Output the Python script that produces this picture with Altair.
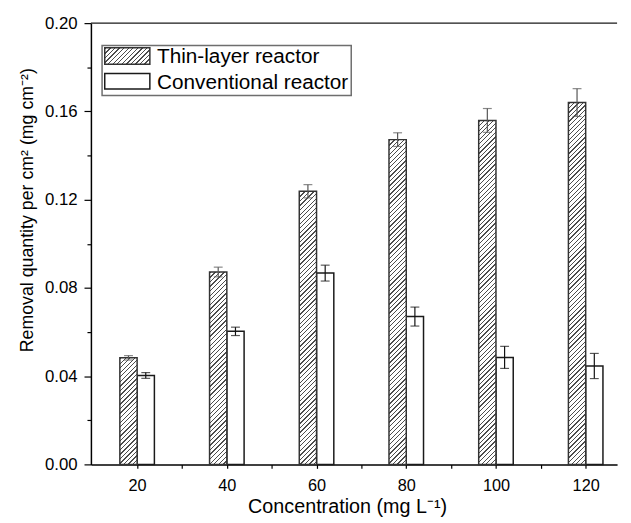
import altair as alt
import pandas as pd

# ---- data ----
conc = [20, 40, 60, 80, 100, 120]
thin_vals = [0.0483, 0.0872, 0.1238, 0.1472, 0.1559, 0.1640]
thin_err = [0.0010, 0.0022, 0.0030, 0.0031, 0.0054, 0.0063]
conv_vals = [0.0403, 0.0603, 0.0867, 0.0670, 0.0485, 0.0446]
conv_err = [0.0013, 0.0019, 0.0036, 0.0043, 0.0050, 0.0057]
series = ["Thin-layer reactor", "Conventional reactor"]
x_ticks = [20, 30, 40, 50, 60, 70, 80, 90, 100, 110, 120]
y_ticks = [0.0, 0.02, 0.04, 0.06, 0.08, 0.10, 0.12, 0.14, 0.16, 0.18, 0.20]

# ---- layout / style ----
W, H = 533, 447
XMIN, XMAX = 9.7, 127.0
YMAX = 0.2
BW = 3.85  # bar width in x units
FONT = "Liberation Sans"

rows = []
for c, v, e in zip(conc, thin_vals, thin_err):
    rows.append({"conc": c, "series": series[0], "value": v, "err": e})
for c, v, e in zip(conc, conv_vals, conv_err):
    rows.append({"conc": c, "series": series[1], "value": v, "err": e})
df = pd.DataFrame(rows)


def hatch(w, h, period=4.6, thick=1.35, color="#4d4d4d"):
    L = w + h
    r = w / h
    beta = (r + 1) / (r * r + 1)
    stops = []
    s = 0.8
    while s < L:
        a = round(s / L, 5)
        b = round(min((s + thick) / L, 1.0), 5)
        stops += [
            {"offset": a, "color": "#ffffff"},
            {"offset": a, "color": color},
            {"offset": b, "color": color},
            {"offset": b, "color": "#ffffff"},
        ]
        s += period
    return {"gradient": "linear", "x1": 0, "y1": 0,
            "x2": round(beta * r, 5), "y2": round(beta, 5), "stops": stops}


xscale = alt.Scale(domain=[XMIN, XMAX], nice=False, zero=False)
yscale = alt.Scale(domain=[0, YMAX], nice=False)
xaxis = alt.Axis(values=x_ticks, labelExpr="datum.value % 20 == 0 ? datum.label : ''",
                 tickSize=4, labelPadding=9, grid=False,
                 titleX=259.5, titleY=49, titleBaseline="alphabetic",
                 titleFontSize=20, labelFontSize=16.5)
yaxis = alt.Axis(values=y_ticks,
                 labelExpr="round(datum.value*100) % 4 == 0 ? format(datum.value, '.2f') : ''",
                 tickSize={"condition": {"test": "round(datum.value*100) % 4 == 0", "value": 7}, "value": 4},
                 labelPadding=7, grid=False,
                 titleX=-59, titleY=189, titleBaseline="alphabetic",
                 titleFontSize=18, labelFontSize=17)
XT = "Concentration (mg L\u207b\u00b9)"
YT = "Removal quantity per cm\u00b2 (mg cm\u207b\u00b2)"


def X(f):
    return alt.X(f, type="quantitative", scale=xscale, axis=xaxis, title=XT)


def Y(f):
    return alt.Y(f, type="quantitative", scale=yscale, axis=yaxis, title=YT)


base = alt.Chart(df).transform_calculate(
    x0=f"datum.series == '{series[0]}' ? datum.conc - {BW} : datum.conc",
    x1=f"datum.series == '{series[0]}' ? datum.conc : datum.conc + {BW}",
    xc=f"datum.series == '{series[0]}' ? datum.conc - {BW/2} : datum.conc + {BW/2}",
    lo="datum.value - datum.err",
    hi="datum.value + datum.err",
)

layers = []
# conventional bars
layers.append(
    base.transform_filter(alt.datum.series == series[1])
    .mark_rect(fill="white", stroke="#1a1a1a", strokeWidth=1.5)
    .encode(x=X("x0:Q"), x2="x1:Q", y=Y("value:Q"), y2=alt.Y2(datum=0))
)
# thin-layer bars (hatched), one per concentration
px_per_x = W / (XMAX - XMIN)
for c, v in zip(conc, thin_vals):
    grad = hatch(BW * px_per_x, v / YMAX * H)
    layers.append(
        base.transform_filter((alt.datum.series == series[0]) & (alt.datum.conc == c))
        .mark_rect(fill=grad, stroke="#333333", strokeWidth=1.5)
        .encode(x=X("x0:Q"), x2="x1:Q", y=Y("value:Q"), y2=alt.Y2(datum=0))
    )
# error bars
ecolor = alt.condition(alt.datum.series == series[0], alt.value("#555555"), alt.value("#111111"))
layers.append(
    base.mark_rule(strokeWidth=1.2).encode(x=X("xc:Q"), y=Y("lo:Q"), y2="hi:Q", color=ecolor)
)
for f in ["lo", "hi"]:
    layers.append(
        base.mark_tick(orient="horizontal", size=9, thickness=1.2)
        .encode(x=X("xc:Q"), y=Y(f + ":Q"), color=ecolor)
    )

one = alt.Data(values=[{"k": 1}])
# top frame line
layers.append(
    alt.Chart(one).mark_rule(color="#1a1a1a", strokeWidth=1.5)
    .encode(y=alt.Y(datum=0.2, type="quantitative", scale=yscale, axis=yaxis, title=YT))
)
# legend (drawn inside plot area)
layers.append(
    alt.Chart(one).mark_rect(fill="white", stroke="#6e6e6e", strokeWidth=1.5)
    .encode(x=alt.value(11.3), x2=alt.value(263.7), y=alt.value(22.7), y2=alt.value(73.3))
)
layers.append(
    alt.Chart(one).mark_rect(fill=hatch(45.7, 16.7), stroke="#333333", strokeWidth=1.5)
    .encode(x=alt.value(14), x2=alt.value(59.7), y=alt.value(25), y2=alt.value(41.7))
)
layers.append(
    alt.Chart(one).mark_rect(fill="white", stroke="#1a1a1a", strokeWidth=1.5)
    .encode(x=alt.value(14), x2=alt.value(59.7), y=alt.value(51), y2=alt.value(66.7))
)
for lbl, yy in zip(series, [40.7, 66.7]):
    layers.append(
        alt.Chart(one).mark_text(align="left", baseline="alphabetic", font=FONT,
                                 fontSize=21, color="black")
        .encode(x=alt.value(67), y=alt.value(yy), text=alt.value(lbl))
    )

chart = alt.layer(*layers).properties(
    width=W, height=H,
    autosize=alt.AutoSizeParams(type="none"),
    padding={"left": 84, "top": 12, "right": 6, "bottom": 53},
    background="white",
).configure_view(stroke=None).configure_axis(
    domainColor="black", domainWidth=1.5, tickColor="black", tickWidth=1.2,
    labelFont=FONT, labelColor="black", titleFont=FONT, titleColor="black",
    titleFontWeight="normal",
)

chart.save("out.html", embed_options={"renderer": "svg", "actions": False})
